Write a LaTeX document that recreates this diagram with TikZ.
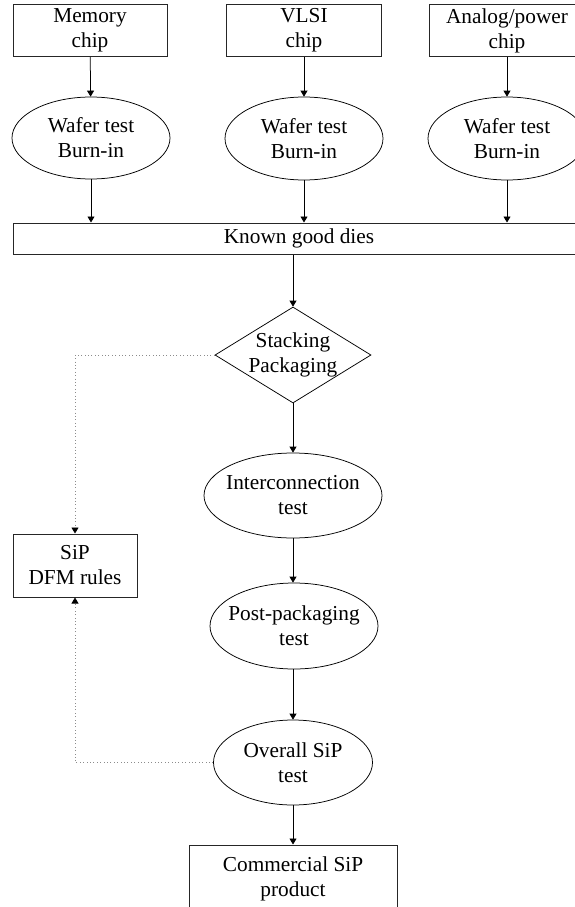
\documentclass[tikz,border=0pt]{standalone}
\usepackage{fontspec}
\setmainfont{Liberation Serif}
\usetikzlibrary{arrows.meta,shapes.geometric}
\begin{document}
\begin{tikzpicture}[x=1pt,y=-1pt,
  every node/.style={font=\fontsize{21.3}{25}\selectfont, align=center, text=black},
  chipbox/.style={draw=black!85, line width=1pt, rectangle, inner sep=0pt},
  testoval/.style={draw=black, line width=0.75pt, ellipse, inner xsep=-30pt, inner ysep=0pt},
  decide/.style={draw=black, line width=0.75pt, diamond, inner sep=-15pt},
  flow/.style={draw=black, line width=0.75pt, -{Triangle[length=6pt,width=7pt]}},
  feedback/.style={draw=black!45, line width=0.8pt, dash pattern=on 0.8pt off 2.6pt,
    -{Triangle[length=6pt,width=7pt,black]}}
]
\useasboundingbox (0,0) rectangle (575,907);

% chips
\node[chipbox, minimum width=154pt, minimum height=52pt] (mem) at (90,30.5) {Memory\\chip};
\node[chipbox, minimum width=155pt, minimum height=52pt] (vlsi) at (304,30.5) {VLSI\\chip};
\node[chipbox, minimum width=155pt, minimum height=52pt] (ana) at (507,30.5) {Analog/power\\chip};

% wafer-level tests
\node[testoval, minimum width=158pt, minimum height=82pt] (w1) at (91,138) {Wafer test\\Burn-in};
\node[testoval, minimum width=158pt, minimum height=83pt] (w2) at (304,138.5) {Wafer test\\Burn-in};
\node[testoval, minimum width=158pt, minimum height=83pt] (w3) at (507,138.5) {Wafer test\\Burn-in};

% known good dies
\node[chipbox, minimum width=572pt, minimum height=31pt] (kgd) at (299,238.5) {Known good dies};

% assembly and test flow
\node[decide, minimum width=156pt, minimum height=96pt] (dia) at (293,355) {Stacking\\Packaging};
\node[testoval, minimum width=178pt, minimum height=85pt] (ic) at (293,495.5) {Interconnection\\test};
\node[testoval, minimum width=168pt, minimum height=86pt] (pp) at (294,626) {Post-packaging\\test};
\node[testoval, minimum width=159pt, minimum height=85pt] (ov) at (293,762.5) {Overall SiP\\test};
\node[chipbox, minimum width=208pt, minimum height=67pt] (com) at (293,878.5) {Commercial SiP\\product};

% design rules
\node[chipbox, minimum width=124pt, minimum height=63pt] (sip) at (75,565.5) {SiP\\DFM rules};

% connectors
\draw[flow] (mem) -- (w1);
\draw[flow] (vlsi) -- (w2);
\draw[flow] (ana) -- (w3);
\draw[flow] (w1) -- (w1 |- kgd.north);
\draw[flow] (w2) -- (w2 |- kgd.north);
\draw[flow] (w3) -- (w3 |- kgd.north);
\draw[flow] (kgd.south -| dia.north) -- (dia.north);
\draw[flow] (dia.south) -- (ic.north);
\draw[flow] (ic.south) -- (pp.north -| ic.south);
\draw[flow] (pp.south -| ov.north) -- (ov.north);
\draw[flow] (ov.south) -- (com.north);

\draw[feedback] (dia.west) -| (sip.north);
\draw[feedback] (ov.west) -| (sip.south);
\end{tikzpicture}
\end{document}
